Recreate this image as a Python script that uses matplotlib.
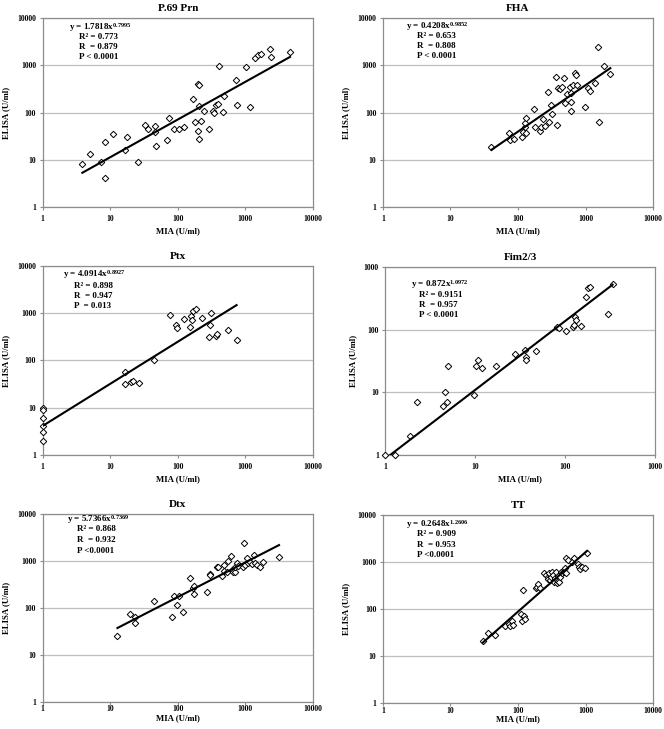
import numpy as np
import matplotlib
matplotlib.use("Agg")
import matplotlib.pyplot as plt
from matplotlib.ticker import FixedLocator, FixedFormatter, NullLocator

plt.rcParams['font.family'] = ['Liberation Serif', 'DejaVu Serif']
plt.rcParams['font.weight'] = 'bold'
plt.rcParams['mathtext.fontset'] = 'custom'
plt.rcParams['mathtext.rm'] = 'Liberation Serif:bold'
plt.rcParams['mathtext.it'] = 'Liberation Serif:bold'
plt.rcParams['mathtext.bf'] = 'Liberation Serif:bold'

# ---------------- data ----------------
titles = ["P.69 Prn", "FHA", "Ptx", "Fim2/3", "Dtx", "TT"]

prn_x = [3.87, 5.0, 7.2, 8.4, 8.4, 11.1, 17.5, 16.6, 25.5, 32.8, 36.8, 46, 46.7, 47, 70, 73.6,
         89, 106, 124, 171, 179, 200, 202, 204, 205, 209, 224, 248, 291, 337, 349, 366, 391,
         409, 464, 480, 731, 748, 1017, 1180, 1416, 1531, 1698, 2333, 2415, 4615]
prn_y = [7.9, 12.9, 8.7, 24, 4.0, 35, 30, 16, 8.9, 54, 45, 52.5, 38.5, 19, 26, 76,
         45, 44, 50, 190, 62, 40, 403, 384, 28, 137, 65, 109, 45, 109, 96, 147, 154,
         972, 104, 228, 482, 144, 910, 129, 1462, 1663, 1747, 2197, 1485, 1897]

fha_x = [40.3, 74.4, 75, 86, 115, 119, 126, 128, 131, 133, 173, 177, 214, 222, 237, 254, 278,
         288, 305, 319, 361, 383, 387, 419, 449, 486, 491, 526, 589, 610, 617, 617, 660, 707,
         723, 740, 972, 1102, 1180, 1384, 1531, 1603, 1858, 2333]
fha_y = [18.8, 36, 26, 27, 30, 39, 50, 61, 37, 78, 120, 49, 40, 49, 74, 52, 272,
         62, 142, 93, 558, 55, 326, 310, 342, 532, 159, 251, 342, 260, 164, 106, 384, 679,
         637, 384, 129, 337, 291, 430, 2422, 63, 972, 658]

ptx_x = [1, 1, 1, 1, 1, 1, 16.6, 16.4, 20.4, 21.5, 27, 44.6, 77, 94, 98, 124, 152, 155, 162,
         167, 187, 228, 293, 300, 307, 370, 380, 560, 746]
ptx_y = [10, 9, 6, 4, 3, 2, 56, 31, 35, 36, 33, 100, 925, 567, 480, 750, 522, 880, 724,
         1140, 1222, 787, 311, 567, 1035, 331, 360, 445, 272]

fim_x = [1, 1.29, 1.88, 2.23, 4.43, 4.58, 4.82, 4.99, 9.64, 10.2, 10.9, 11.9, 17.1, 27.6, 36.3,
         37.2, 37.2, 47.2, 82.4, 85, 102, 122, 126, 129, 134, 152, 172, 179, 192, 300, 340]
fim_y = [1, 1, 2.0, 7.0, 6.0, 10.1, 7.0, 26, 9.0, 26, 33, 24.4, 26, 41, 46.8,
         36, 33, 46, 112, 105, 95, 112, 119, 159, 141, 116, 336, 462, 486, 176, 535]

dtx_x = [12.8, 19.9, 23.6, 23.6, 44.6, 83, 88, 99, 103, 119, 154, 171, 177, 177, 269, 298, 301,
         378, 393, 449, 486, 491, 531, 562, 619, 632, 670, 710, 710, 750, 790, 937, 970, 993,
         1052, 1092, 1184, 1254, 1372, 1400, 1480, 1654, 1853, 3170]
dtx_y = [25, 76, 64, 47, 139, 63, 180, 118, 183, 81, 435, 271, 299, 202, 222, 528, 504,
         735, 735, 480, 822, 622, 593, 1014, 1276, 644, 593, 593, 757, 920, 783, 735, 2455, 822,
         1140, 893, 966, 862, 1342, 893, 822, 735, 966, 1200]

tt_x = [30, 36, 46, 64, 73, 77, 81, 85, 110, 115, 119, 123, 126, 183, 191, 200, 210, 246, 257,
        275, 281, 288, 296, 307, 316, 327, 338, 354, 362, 374, 386, 393, 404, 418, 434, 453,
        486, 498, 510, 520, 558, 626, 685, 764, 808, 837, 888, 993, 1052]
tt_y = [21, 31, 28, 44, 47, 44, 55, 46, 80, 57, 249, 71, 60, 279, 297, 338, 274, 570, 525,
        483, 426, 570, 411, 469, 617, 525, 378, 447, 617, 350, 500, 398, 378, 469, 617, 570,
        617, 727, 570, 1186, 1091, 1004, 1186, 897, 787, 714, 787, 727, 1560]

coef_a = [1.7818, 0.4208, 4.0914, 0.872, 5.7366, 0.2648]
coef_b = [0.7995, 0.9852, 0.8927, 1.0972, 0.7369, 1.2606]

eq_text = ["y = 1.7818x$^{0.7995}$", "y = 0.4208x$^{0.9852}$", "y = 4.0914x$^{0.8927}$",
           "y = 0.872x$^{1.0972}$", "y = 5.7366x$^{0.7369}$", "y = 0.2648x$^{1.2606}$"]
stat_text = [["R\u00b2 = 0.773", "R  = 0.879", "P < 0.0001"],
             ["R\u00b2 = 0.653", "R  = 0.808", "P < 0.0001"],
             ["R\u00b2 = 0.898", "R  = 0.947", "P  = 0.013"],
             ["R\u00b2 = 0.9151", "R  = 0.957", "P < 0.0001"],
             ["R\u00b2 = 0.868", "R  = 0.932", "P <0.0001"],
             ["R\u00b2 = 0.909", "R  = 0.953", "P <0.0001"]]

xs = [prn_x, fha_x, ptx_x, fim_x, dtx_x, tt_x]
ys = [prn_y, fha_y, ptx_y, fim_y, dtx_y, tt_y]
xmax_list = [10000, 10000, 10000, 1000, 10000, 10000]
ymax_list = [10000, 10000, 10000, 1000, 10000, 10000]

# ---------------- layout ----------------
W, H = 664, 729
fig = plt.figure(figsize=(W / 100, H / 100), dpi=100)

# axes boxes in pixels: left, top, right, bottom
boxes = [(42.7, 18.3, 312.7, 206.7),
         (383, 18.3, 653, 206.7),
         (42.7, 266.3, 312.7, 454.7),
         (385.3, 267, 654.7, 455),
         (42.7, 514, 312.7, 702),
         (383, 514.7, 653, 703.3)]

eq_pos = [((0.097, 0.950), (0.135, [0.900, 0.848, 0.795])),
          ((0.085, 0.955), (0.126, [0.905, 0.855, 0.800])),
          ((0.076, 0.955), (0.116, [0.898, 0.841, 0.788])),
          ((0.095, 0.906), (0.126, [0.853, 0.800, 0.747])),
          ((0.089, 0.972), (0.128, [0.919, 0.860, 0.803])),
          ((0.085, 0.949), (0.126, [0.896, 0.839, 0.784]))]

grid_col = '#bfbfbf'
spine_col = '#8c8c8c'

for i in range(6):
    l, t, r, b = boxes[i]
    ax = fig.add_axes([l / W, 1 - b / H, (r - l) / W, (b - t) / H])
    ax.set_xscale('log')
    ax.set_yscale('log')
    ax.set_xlim(1, xmax_list[i])
    ax.set_ylim(1, ymax_list[i])

    xt = [10 ** k for k in range(int(np.log10(xmax_list[i])) + 1)]
    yt = [10 ** k for k in range(int(np.log10(ymax_list[i])) + 1)]
    ax.xaxis.set_major_locator(FixedLocator(xt))
    ax.xaxis.set_major_formatter(FixedFormatter([str(v) for v in xt]))
    ax.yaxis.set_major_locator(FixedLocator(yt))
    ax.yaxis.set_major_formatter(FixedFormatter([str(v) for v in yt]))
    ax.xaxis.set_minor_locator(NullLocator())
    ax.yaxis.set_minor_locator(NullLocator())

    ax.grid(axis='y', color=grid_col, lw=0.9)
    ax.set_axisbelow(True)
    for s in ax.spines.values():
        s.set_color(spine_col)
        s.set_linewidth(0.9)
    bottom_row = i >= 4
    ax.tick_params(axis='y', which='major', direction='out', length=2.2, width=0.8,
                   color=spine_col, labelsize=5.6, pad=2.5)
    ax.tick_params(axis='x', which='major', direction='out', length=2.2, width=0.8,
                   color=spine_col, labelsize=5.6, pad=0.3 if bottom_row else 3.5)
    for lab in ax.get_xticklabels() + ax.get_yticklabels():
        lab.set_fontweight('bold')

    x = np.array(xs[i], dtype=float)
    y = np.array(ys[i], dtype=float)
    ax.plot(x, y, linestyle='none', marker='D', ms=3.3, mfc='white', mec='black',
            mew=0.7, clip_on=False, zorder=3)

    xf = np.logspace(np.log10(x.min()), np.log10(x.max()), 100)
    ax.plot(xf, coef_a[i] * xf ** coef_b[i], color='black', lw=1.5, zorder=4)

    ax.set_title(titles[i], fontsize=8, fontweight='bold', pad=5)
    ax.set_xlabel("MIA (U/ml)", fontsize=6.3, fontweight='bold',
                  labelpad=0.5 if bottom_row else 3)
    ax.set_ylabel("ELISA (U/ml)", fontsize=6.3, fontweight='bold', labelpad=5)

    (ex, ey), (sx, sys_) = eq_pos[i]
    ax.text(ex, ey, eq_text[i], transform=ax.transAxes, fontsize=6.5,
            fontweight='bold', va='center', ha='left')
    for s_txt, yy in zip(stat_text[i], sys_):
        ax.text(sx, yy, s_txt, transform=ax.transAxes, fontsize=6.5,
                fontweight='bold', va='center', ha='left')

fig.savefig("out.png", dpi=100)
